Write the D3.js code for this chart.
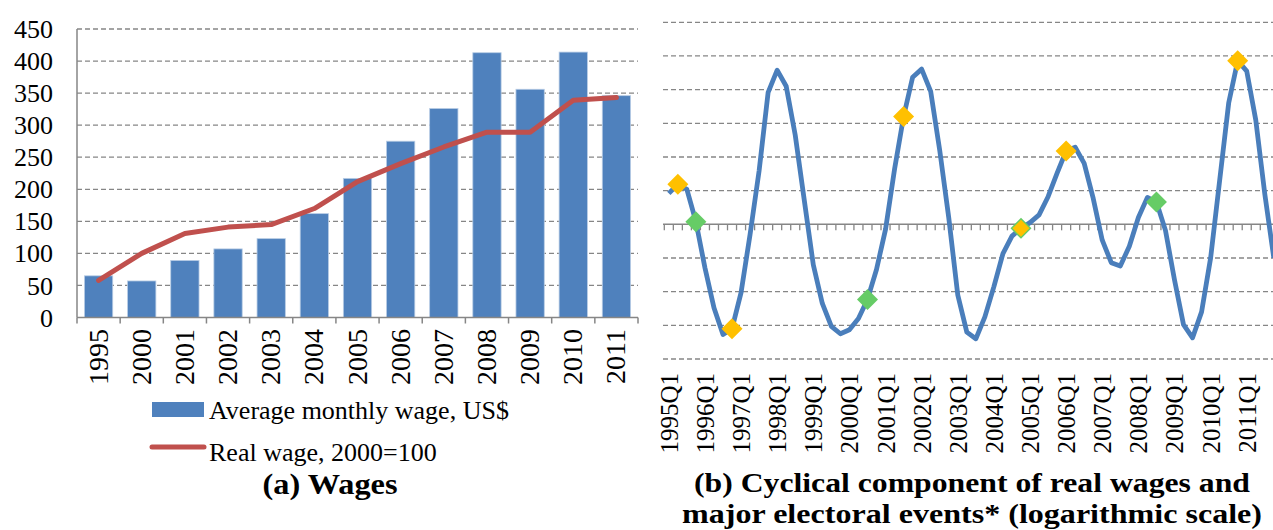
<!DOCTYPE html>
<html>
<head>
<meta charset="utf-8">
<script src="https://cdn.jsdelivr.net/npm/d3@7"></script>
<style>
  html, body { margin: 0; padding: 0; background: #fff; }
  svg { display: block; font-family: 'Liberation Serif', 'Times New Roman', serif; }
</style>
</head>
<body>
<svg id="chart" width="1273" height="530"></svg>
<script>
// (a) Wages
const years = ['1995', '2000', '2001', '2002', '2003', '2004', '2005', '2006', '2007', '2008', '2009', '2010', '2011'];
const avgWage = [65, 57, 89, 107, 123, 162, 217, 275, 326, 413, 356, 414, 346];
const realWage = [58, 100, 131, 141, 145, 170, 212, 240, 266, 289, 289, 339, 343];
const wageTicks = [0, 50, 100, 150, 200, 250, 300, 350, 400, 450];

// (b) Cyclical component, quarterly, 1995Q1 - 2011Q4 (% deviation, log scale)
const cycleYears = d3.range(1995, 2012).map(String);
const quarters = cycleYears.flatMap(y => ['Q1', 'Q2', 'Q3', 'Q4'].map(q => y + q));
const cycle = [
  0.92, 1.19, 1.04, 0.08, -1.29, -2.48, -3.27, -3.10,
  -2.03, -0.30, 1.59, 3.92, 4.58, 4.10, 2.65, 0.72,
  -1.20, -2.35, -3.03, -3.25, -3.13, -2.80, -2.23, -1.34,
  -0.15, 1.64, 3.20, 4.37, 4.61, 3.95, 2.20, 0.20,
  -2.10, -3.20, -3.40, -2.75, -1.85, -0.87, -0.35, -0.12,
  0.05, 0.28, 0.82, 1.52, 2.18, 2.29, 1.81, 0.77,
  -0.47, -1.14, -1.24, -0.65, 0.20, 0.80, 0.66, -0.18,
  -1.65, -2.98, -3.37, -2.60, -1.00, 1.30, 3.60, 4.86,
  4.55, 3.10, 0.90, -1.00
];
const cycleTicks = [-4, -3, -2, -1, 1, 2, 3, 4, 5, 6];
const yellowEvents = ['1995Q2', '1996Q4', '2001Q3', '2004Q4', '2006Q1', '2010Q4'];
const greenEvents = ['1995Q4', '2000Q3', '2004Q4', '2008Q3'];

const svg = d3.select('#chart');
const gridColor = '#868686';

// ---------- left panel ----------
const xA = d3.scaleBand().domain(years).range([77, 638])
  .paddingInner(0.344).paddingOuter(0.172);
const yA = d3.scaleLinear().domain([0, 450]).range([317.5, 29]);

const gA = svg.append('g');

// gridlines
gA.selectAll('.gridA')
  .data(wageTicks.filter(t => t > 0))
  .enter().append('line')
  .attr('x1', 77).attr('x2', 638)
  .attr('y1', d => yA(d)).attr('y2', d => yA(d))
  .attr('stroke', gridColor).attr('stroke-width', 1.3)
  .attr('stroke-dasharray', '5,3');

// bars
gA.selectAll('.bar')
  .data(years)
  .enter().append('rect')
  .attr('x', d => xA(d))
  .attr('width', xA.bandwidth())
  .attr('y', (d, i) => yA(avgWage[i]))
  .attr('height', (d, i) => yA(0) - yA(avgWage[i]))
  .attr('fill', '#4F81BD')
  .attr('stroke', '#B9CDE5').attr('stroke-width', 0.8);

// axes lines
gA.append('line').attr('x1', 77).attr('x2', 77).attr('y1', 29).attr('y2', yA(0))
  .attr('stroke', gridColor).attr('stroke-width', 1.5);
gA.append('line').attr('x1', 77).attr('x2', 638).attr('y1', yA(0)).attr('y2', yA(0))
  .attr('stroke', gridColor).attr('stroke-width', 1.5);
const stepA = xA.step();
gA.selectAll('.tickA')
  .data(d3.range(years.length + 1))
  .enter().append('line')
  .attr('x1', i => 77 + i * stepA).attr('x2', i => 77 + i * stepA)
  .attr('y1', yA(0)).attr('y2', yA(0) + 6)
  .attr('stroke', gridColor).attr('stroke-width', 1.5);

// real wage line
const lineA = d3.line()
  .x((d, i) => xA(years[i]) + xA.bandwidth() / 2)
  .y(d => yA(d));
gA.append('path')
  .datum(realWage)
  .attr('d', lineA)
  .attr('fill', 'none')
  .attr('stroke', '#C0504D')
  .attr('stroke-width', 5)
  .attr('stroke-linecap', 'round')
  .attr('stroke-linejoin', 'round');

// y labels
gA.selectAll('.ylabA')
  .data(wageTicks)
  .enter().append('text')
  .attr('x', 53).attr('y', d => yA(d))
  .attr('dy', '0.35em')
  .attr('text-anchor', 'end')
  .attr('font-size', '26px')
  .text(d => d);

// x labels
gA.selectAll('.xlabA')
  .data(years)
  .enter().append('text')
  .attr('transform', d => `translate(${xA(d) + xA.bandwidth() / 2 + 9},329) rotate(-90)`)
  .attr('text-anchor', 'end')
  .attr('font-size', '28px')
  .text(d => d);

// legend
gA.append('rect').attr('x', 152).attr('y', 402).attr('width', 52).attr('height', 15)
  .attr('fill', '#4F81BD');
gA.append('text').attr('x', 209).attr('y', 419).attr('font-size', '26px')
  .text('Average monthly wage, US$');
gA.append('line').attr('x1', 152).attr('x2', 204).attr('y1', 447).attr('y2', 447)
  .attr('stroke', '#C0504D').attr('stroke-width', 5).attr('stroke-linecap', 'round');
gA.append('text').attr('x', 209).attr('y', 461).attr('font-size', '26px')
  .text('Real wage, 2000=100');

gA.append('text').attr('x', 330).attr('y', 494)
  .attr('text-anchor', 'middle').attr('font-size', '30px').attr('font-weight', 'bold')
  .attr('textLength', 135).attr('lengthAdjust', 'spacingAndGlyphs')
  .text('(a) Wages');

// ---------- right panel ----------
const xB = d3.scaleBand().domain(quarters).range([664.3, 664.3 + quarters.length * 9.03]);
const yB = d3.scaleLinear().domain([-4, 6]).range([359, 22.3]);
const gB = svg.append('g');
const bx = q => xB(q) + xB.bandwidth() / 2;

gB.selectAll('.gridB')
  .data(cycleTicks)
  .enter().append('line')
  .attr('x1', 663).attr('x2', 1280)
  .attr('y1', d => yB(d)).attr('y2', d => yB(d))
  .attr('stroke', gridColor).attr('stroke-width', 1.3)
  .attr('stroke-dasharray', '5,3');

// zero axis with quarter ticks
gB.append('line').attr('x1', 663).attr('x2', 1280).attr('y1', yB(0)).attr('y2', yB(0))
  .attr('stroke', gridColor).attr('stroke-width', 1.5);
gB.selectAll('.tickB')
  .data(quarters)
  .enter().append('line')
  .attr('x1', d => xB(d)).attr('x2', d => xB(d))
  .attr('y1', yB(0)).attr('y2', yB(0) + 6)
  .attr('stroke', gridColor).attr('stroke-width', 1.3);

const lineB = d3.line()
  .x((d, i) => bx(quarters[i]))
  .y(d => yB(d));
gB.append('path')
  .datum(cycle)
  .attr('d', lineB)
  .attr('fill', 'none')
  .attr('stroke', '#4A7EBB')
  .attr('stroke-width', 4.8)
  .attr('stroke-linejoin', 'round');

const diamond = (s) => `M0,${-s}L${s},0L0,${s}L${-s},0Z`;
gB.selectAll('.green')
  .data(greenEvents)
  .enter().append('path')
  .attr('transform', d => `translate(${bx(d)},${yB(cycle[quarters.indexOf(d)])})`)
  .attr('d', diamond(10.5))
  .attr('fill', '#66CC66');
gB.selectAll('.yellow')
  .data(yellowEvents)
  .enter().append('path')
  .attr('transform', d => `translate(${bx(d)},${yB(cycle[quarters.indexOf(d)])})`)
  .attr('d', d => diamond(greenEvents.includes(d) ? 8.5 : 10.5))
  .attr('fill', '#FFC000');

// x labels (Q1 only)
gB.selectAll('.xlabB')
  .data(quarters.filter(q => q.endsWith('Q1')))
  .enter().append('text')
  .attr('transform', d => `translate(${bx(d) + 9},373) rotate(-90)`)
  .attr('text-anchor', 'end')
  .attr('font-size', '25px')
  .text(d => d);

gB.append('text').attr('x', 972).attr('y', 492)
  .attr('text-anchor', 'middle').attr('font-size', '27px').attr('font-weight', 'bold')
  .attr('textLength', 556).attr('lengthAdjust', 'spacingAndGlyphs')
  .text('(b) Cyclical component of real wages and');
gB.append('text').attr('x', 972).attr('y', 523)
  .attr('text-anchor', 'middle').attr('font-size', '27px').attr('font-weight', 'bold')
  .attr('textLength', 580).attr('lengthAdjust', 'spacingAndGlyphs')
  .text('major electoral events* (logarithmic scale)');
</script>
</body>
</html>
